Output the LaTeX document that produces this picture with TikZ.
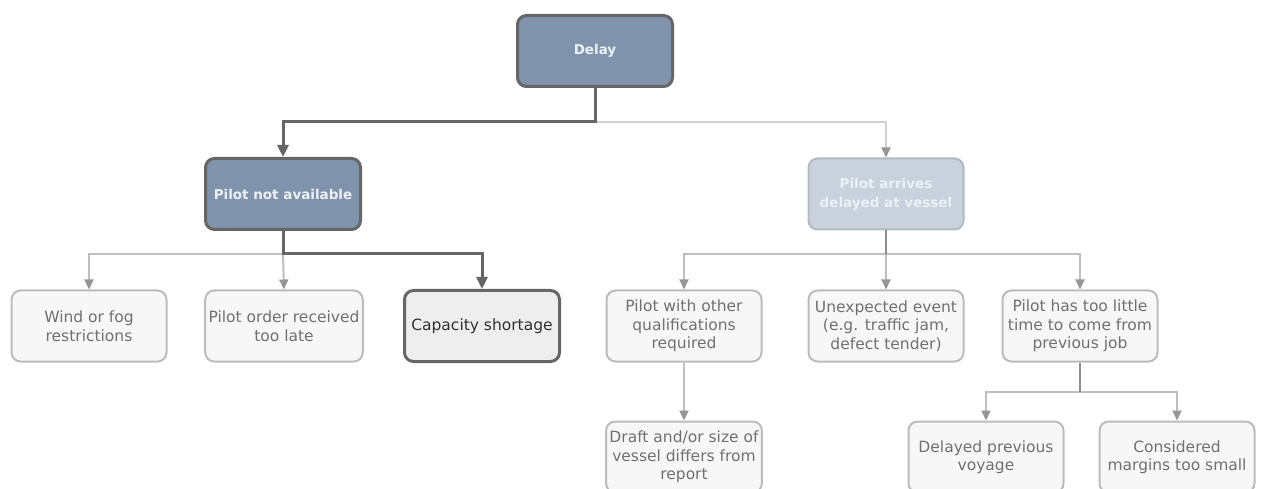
\documentclass[tikz,border=0pt]{standalone}
\usepackage{fontspec}
\setmainfont{DejaVu Sans}
\usetikzlibrary{arrows.meta,positioning}

\definecolor{headfill}{RGB}{127,148,172}
\definecolor{headtext}{RGB}{236,241,246}
\definecolor{palefill}{RGB}{200,209,220}
\definecolor{paleline}{RGB}{178,186,196}
\definecolor{darkline}{RGB}{102,102,102}
\definecolor{boxfill}{RGB}{247,247,247}
\definecolor{boxline}{RGB}{188,188,188}
\definecolor{boxtext}{RGB}{112,112,112}
\definecolor{activefill}{RGB}{238,238,238}
\definecolor{activetext}{RGB}{48,48,48}
\definecolor{thinline}{RGB}{190,190,190}
\definecolor{stemline}{RGB}{140,140,140}
\definecolor{tipcolor}{RGB}{150,150,150}

\tikzset{
  box/.style={rectangle, rounded corners=9pt, minimum width=155pt, minimum height=71pt,
    align=center, line width=2pt, draw=boxline, fill=boxfill, text=boxtext,
    font=\fontsize{15.5}{18.5}\selectfont},
  headbox/.style={box, draw=darkline, fill=headfill, text=headtext, line width=3pt,
    font=\bfseries\fontsize{13.5}{19}\selectfont},
  paleheadbox/.style={headbox, draw=paleline, fill=palefill, line width=2pt},
  activebox/.style={box, draw=darkline, fill=activefill, text=activetext, line width=3pt},
  mainpath/.style={draw=darkline, line width=3pt, -{Triangle[width=11pt,length=12pt]}},
  sidepath/.style={draw=thinline, line width=2pt, -{Triangle[width=9pt,length=10pt,color=tipcolor]}},
  stem/.style={draw=stemline, line width=2pt}
}

\begin{document}
\begin{tikzpicture}[x=1pt, y=-1pt, node distance=131pt]

    \clip (0,0) rectangle (1262,489);

    % Nodes
    \node[headbox] (delay) at (595,51) {Delay};
    \node[headbox] (nopilot) at (283,194) {Pilot not available};
    \node[paleheadbox] (late) at (886,194) {Pilot arrives\\delayed at vessel};

    \node[box] (wind) at (89,326) {Wind or fog\\restrictions};
    \node[box] (order) at (284,326) {Pilot order received\\too late};
    \node[activebox] (shortage) at (482,326) {Capacity shortage};
    \node[box] (qualif) at (684,326) {Pilot with other\\qualifications\\required};
    \node[box] (event) at (886,326) {Unexpected event\\(e.g. traffic jam,\\defect tender)};
    \node[box] (notime) at (1080,326) {Pilot has too little\\time to come from\\previous job};

    \node[box, below of=qualif] (draft) {Draft and/or size of\\vessel differs from\\report};
    \node[box] (voyage) at (986,457) {Delayed previous\\voyage};
    \node[box] (margins) at (1177,457) {Considered\\margins too small};

    % Junctions
    \coordinate (j0) at (595,122);
    \coordinate (j1) at (nopilot.south |- 0,254);
    \coordinate (j2) at (late.south |- 0,254);
    \coordinate (j3) at (notime.south |- 0,392);

    % Edges
    \draw[sidepath, draw=thinline!70] (j0) -| (late.north);
    \draw[sidepath] (j1) -| (wind.north);
    \draw[sidepath] (j1) -- (order.north);
    \draw[mainpath] (delay.south) -- (j0) -| (nopilot.north);
    \draw[mainpath] (nopilot.south) -- (j1) -| (shortage.north);

    \draw[sidepath] (j2) -| (qualif.north);
    \draw[sidepath] (j2) -| (notime.north);
    \draw[stem] (late.south) -- (j2);
    \draw[sidepath] (j2) -- (event.north);
    \draw[sidepath] (qualif.south) -- (draft.north);

    \draw[sidepath] (j3) -| (voyage.north);
    \draw[sidepath] (j3) -| (margins.north);
    \draw[stem] (notime.south) -- (j3);

\end{tikzpicture}
\end{document}
